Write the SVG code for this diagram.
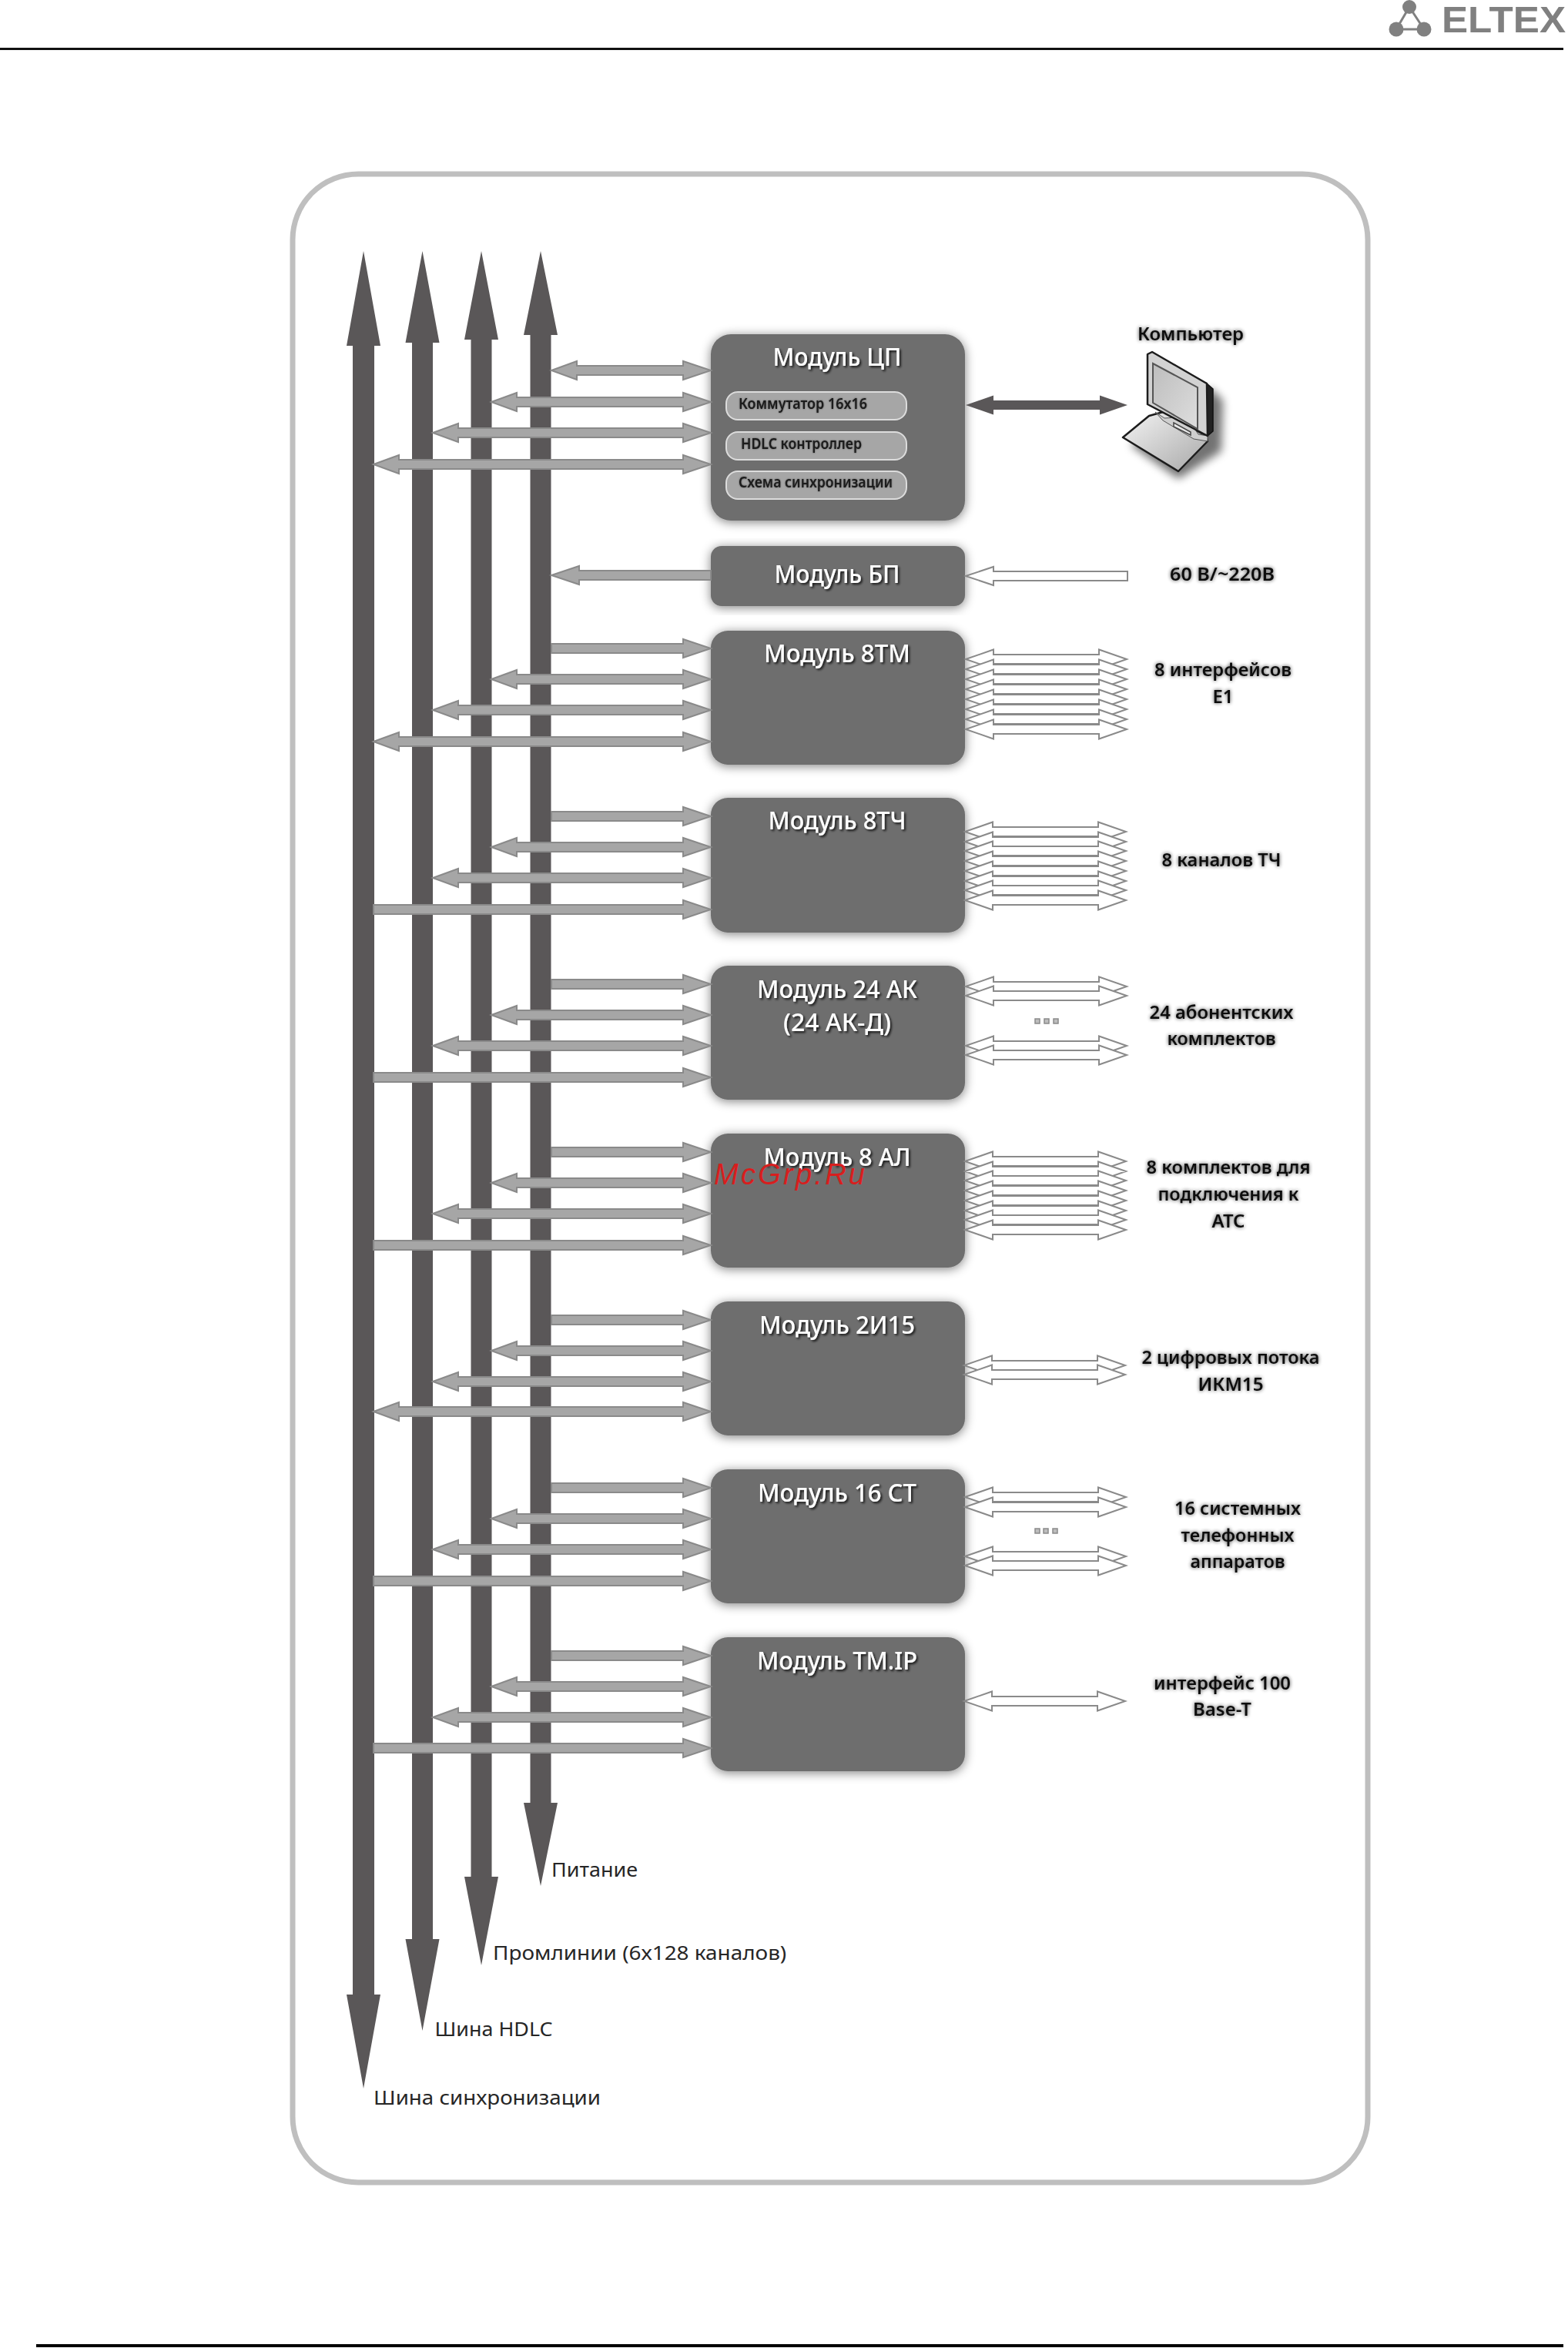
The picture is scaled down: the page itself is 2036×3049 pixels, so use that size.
<svg xmlns="http://www.w3.org/2000/svg" width="2036" height="3049" viewBox="0 0 2036 3049">
<style>
text{font-family:"Noto Sans","Open Sans","DejaVu Sans",sans-serif}
.bus{fill:#5a5758}
.mod{fill:#6e6e6e}
.pill{fill:#a6a6a6;stroke:#dcdcdc;stroke-width:2}
.ga{fill:#a6a6a6;stroke:#8a8a8a;stroke-width:2}
.wa{fill:#fff;stroke:#8a8a8a;stroke-width:2}
.mt{fill:#fff;font-size:32px;font-weight:500;text-anchor:middle;filter:url(#ds)}
.lb{fill:#111;font-size:24px;font-weight:600;text-anchor:middle;filter:url(#gl)}
.pt{fill:#1a1a1a;font-size:20px;font-weight:600;filter:url(#gs)}
.bl{fill:#262626;font-size:26px}
.dot{fill:#bdbdbd;stroke:#8a8a8a;stroke-width:1.5}
</style>
<defs>
<filter id="sh" x="-15%" y="-15%" width="130%" height="130%"><feGaussianBlur in="SourceAlpha" stdDeviation="7"/><feOffset dy="2"/><feComponentTransfer><feFuncA type="linear" slope=".5"/></feComponentTransfer><feMerge><feMergeNode/><feMergeNode in="SourceGraphic"/></feMerge></filter>
<filter id="ds" x="-10%" y="-20%" width="120%" height="150%"><feGaussianBlur in="SourceAlpha" stdDeviation="1.5"/><feOffset dx="2" dy="2"/><feComponentTransfer><feFuncA type="linear" slope=".8"/></feComponentTransfer><feMerge><feMergeNode/><feMergeNode in="SourceGraphic"/></feMerge></filter>
<filter id="gl" x="-15%" y="-30%" width="130%" height="170%"><feGaussianBlur in="SourceAlpha" stdDeviation="2.6"/><feComponentTransfer><feFuncA type="linear" slope=".75"/></feComponentTransfer><feMerge><feMergeNode/><feMergeNode in="SourceGraphic"/></feMerge></filter>
<filter id="gs" x="-10%" y="-30%" width="120%" height="170%"><feGaussianBlur in="SourceAlpha" stdDeviation="1.2"/><feComponentTransfer><feFuncA type="linear" slope=".5"/></feComponentTransfer><feMerge><feMergeNode/><feMergeNode in="SourceGraphic"/></feMerge></filter>
<filter id="pcs" x="-30%" y="-30%" width="160%" height="160%"><feGaussianBlur stdDeviation="6"/></filter>
<linearGradient id="kb" x1="0" y1="0" x2="1" y2="1"><stop offset="0" stop-color="#f4f4f4"/><stop offset="1" stop-color="#a8a8a8"/></linearGradient>
<linearGradient id="sc" x1="0" y1="0" x2="1" y2="1"><stop offset="0" stop-color="#bdbdbd"/><stop offset="1" stop-color="#dedede"/></linearGradient>
<polygon id="g716d" class="ga" points="716,0 749,-12 749,-6 887,-6 887,-12 923,0 887,12 887,6 749,6 749,12"/>
<polygon id="g638d" class="ga" points="638,0 671,-12 671,-6 887,-6 887,-12 923,0 887,12 887,6 671,6 671,12"/>
<polygon id="g562d" class="ga" points="562,0 595,-12 595,-6 887,-6 887,-12 923,0 887,12 887,6 595,6 595,12"/>
<polygon id="g485d" class="ga" points="485,0 518,-12 518,-6 887,-6 887,-12 923,0 887,12 887,6 518,6 518,12"/>
<polygon id="g716s" class="ga" points="716,-6 887,-6 887,-12 923,0 887,12 887,6 716,6"/>
<polygon id="g485s" class="ga" points="485,-6 887,-6 887,-12 923,0 887,12 887,6 485,6"/>
<polygon id="w" class="wa" points="1253,0 1289,-12.500 1289,-6 1426,-6 1426,-12.500 1462,0 1426,12.500 1426,6 1289,6 1289,12.500"/>
<rect id="d" class="dot" x="-3" y="-3" width="6" height="6"/>
</defs>
<rect width="2036" height="3049" fill="#fff"/>
<g id="page">
<rect x="0" y="62" width="2030" height="3" fill="#111"/>
<rect x="47" y="3044" width="1983" height="4" fill="#000"/>
</g>
<g id="logo" fill="#808080">
<polygon points="1830,9 1813,38 1849,38" fill="none" stroke="#808080" stroke-width="3"/>
<circle cx="1830" cy="9" r="9"/><circle cx="1813" cy="38" r="9.500"/><circle cx="1849" cy="38" r="9.500"/>
<text x="1872" y="42" font-size="48" font-weight="700" textLength="161" lengthAdjust="spacingAndGlyphs" style="font-family:'Liberation Sans',sans-serif">ELTEX</text>
</g>
<rect id="frame" x="380" y="226" width="1396" height="2608" rx="85" ry="85" fill="#fff" stroke="#bfbfbf" stroke-width="7"/>
<g id="buses">
<polygon class="bus" points="472,326 494,449 486,449 486,2590 494,2590 472,2712 450,2590 458,2590 458,449 450,449"/>
<polygon class="bus" points="548.500,326 570.500,445 562,445 562,2518 570.500,2518 548.500,2637 526.500,2518 535,2518 535,445 526.500,445"/>
<polygon class="bus" points="625,326 647,441 638.500,441 638.500,2437 647,2437 625,2552 603,2437 611.500,2437 611.500,441 603,441"/>
<polygon class="bus" points="702,326 724,435 715.500,435 715.500,2341 724,2341 702,2449 680,2341 688.500,2341 688.500,435 680,435"/>
</g>
<g id="mod-cp">
<rect class="mod" x="923" y="434" width="330" height="242" rx="26" filter="url(#sh)"/>
<text class="mt" x="1087" y="475" textLength="167" lengthAdjust="spacingAndGlyphs">Модуль ЦП</text>
<rect class="pill" x="943" y="509" width="234" height="36" rx="15"/>
<rect class="pill" x="943" y="561" width="234" height="36" rx="15"/>
<rect class="pill" x="943" y="612" width="234" height="36" rx="15"/>
<text class="pt" x="959" y="531" textLength="167" lengthAdjust="spacingAndGlyphs">Коммутатор 16x16</text>
<text class="pt" x="962" y="583" textLength="157" lengthAdjust="spacingAndGlyphs">HDLC контроллер</text>
<text class="pt" x="959" y="633" textLength="200" lengthAdjust="spacingAndGlyphs">Схема синхронизации</text>
</g>
<g id="mod-bp"><rect class="mod" x="923" y="709" width="330" height="78" rx="14" filter="url(#sh)"/><text class="mt" x="1087" y="757" textLength="163" lengthAdjust="spacingAndGlyphs">Модуль БП</text></g>
<g id="mod-8tm"><rect class="mod" x="923" y="819" width="330" height="174" rx="22" filter="url(#sh)"/><text class="mt" x="1087" y="860" textLength="190" lengthAdjust="spacingAndGlyphs">Модуль 8ТМ</text></g>
<g id="mod-8tch"><rect class="mod" x="923" y="1036" width="330" height="175" rx="22" filter="url(#sh)"/><text class="mt" x="1087" y="1077" textLength="179" lengthAdjust="spacingAndGlyphs">Модуль 8ТЧ</text></g>
<g id="mod-24ak"><rect class="mod" x="923" y="1254" width="330" height="174" rx="22" filter="url(#sh)"/><text class="mt" x="1087" y="1296" textLength="208" lengthAdjust="spacingAndGlyphs">Модуль 24 АК</text><text class="mt" x="1087" y="1339" textLength="140" lengthAdjust="spacingAndGlyphs">(24 АК-Д)</text></g>
<g id="mod-8al"><rect class="mod" x="923" y="1472" width="330" height="174" rx="22" filter="url(#sh)"/><text class="mt" x="1087" y="1514" textLength="191" lengthAdjust="spacingAndGlyphs">Модуль 8 АЛ</text></g>
<g id="mod-2i15"><rect class="mod" x="923" y="1690" width="330" height="174" rx="22" filter="url(#sh)"/><text class="mt" x="1087" y="1732" textLength="202" lengthAdjust="spacingAndGlyphs">Модуль 2И15</text></g>
<g id="mod-16st"><rect class="mod" x="923" y="1908" width="330" height="174" rx="22" filter="url(#sh)"/><text class="mt" x="1087" y="1950" textLength="206" lengthAdjust="spacingAndGlyphs">Модуль 16 СТ</text></g>
<g id="mod-tmip"><rect class="mod" x="923" y="2126" width="330" height="174" rx="22" filter="url(#sh)"/><text class="mt" x="1087" y="2168" textLength="208" lengthAdjust="spacingAndGlyphs">Модуль ТМ.IP</text></g>
<g id="connectors">
<use href="#g716d" y="481"/><use href="#g638d" y="522"/><use href="#g562d" y="562"/><use href="#g485d" y="603"/>
<polygon class="ga" points="716,747 752,735 752,741 923,741 923,753 752,753 752,759"/>
<use href="#g716s" y="842"/><use href="#g638d" y="882"/><use href="#g562d" y="922"/><use href="#g485d" y="963"/>
<use href="#g716s" y="1060"/><use href="#g638d" y="1100"/><use href="#g562d" y="1140"/><use href="#g485s" y="1181"/>
<use href="#g716s" y="1278"/><use href="#g638d" y="1318"/><use href="#g562d" y="1358"/><use href="#g485s" y="1399"/>
<use href="#g716s" y="1496"/><use href="#g638d" y="1536"/><use href="#g562d" y="1576"/><use href="#g485s" y="1617"/>
<use href="#g716s" y="1714"/><use href="#g638d" y="1754"/><use href="#g562d" y="1794"/><use href="#g485d" y="1833"/>
<use href="#g716s" y="1932"/><use href="#g638d" y="1972"/><use href="#g562d" y="2012"/><use href="#g485s" y="2053"/>
<use href="#g716s" y="2150"/><use href="#g638d" y="2190"/><use href="#g562d" y="2230"/><use href="#g485s" y="2270"/>
<polygon fill="#5a5758" points="1254,526 1290,513.500 1290,520 1428,520 1428,513.500 1464,526 1428,538.500 1428,532 1290,532 1290,538.500"/>
<polygon class="wa" points="1254,748 1290,736 1290,742 1464,742 1464,754 1290,754 1290,760"/>
<use href="#w" x="1" y="856"/><use href="#w" x="1" y="869"/><use href="#w" x="1" y="882"/><use href="#w" x="1" y="895"/><use href="#w" x="1" y="908"/><use href="#w" x="1" y="921"/><use href="#w" x="1" y="934"/><use href="#w" x="1" y="947"/>
<use href="#w" y="1080"/><use href="#w" y="1093"/><use href="#w" y="1105"/><use href="#w" y="1118"/><use href="#w" y="1131"/><use href="#w" y="1144"/><use href="#w" y="1156"/><use href="#w" y="1169"/>
<use href="#w" x="1" y="1281"/><use href="#w" x="1" y="1293"/><use href="#w" x="1" y="1358"/><use href="#w" x="1" y="1370"/>
<use href="#w" y="1508"/><use href="#w" y="1521"/><use href="#w" y="1533"/><use href="#w" y="1546"/><use href="#w" y="1559"/><use href="#w" y="1572"/><use href="#w" y="1584"/><use href="#w" y="1597"/>
<use href="#w" x="-1" y="1773"/><use href="#w" x="-1" y="1785"/>
<use href="#w" y="1944"/><use href="#w" y="1957"/><use href="#w" y="2021"/><use href="#w" y="2033"/>
<use href="#w" x="-1" y="2209"/>
<use href="#d" x="1347" y="1326"/><use href="#d" x="1359" y="1326"/><use href="#d" x="1371" y="1326"/>
<use href="#d" x="1347" y="1988"/><use href="#d" x="1358" y="1988"/><use href="#d" x="1370" y="1988"/>
</g>
<g id="computer">
<polygon points="1505,548 1572,504 1588,520 1586,586 1530,622 1468,578" fill="#000" opacity=".55" filter="url(#pcs)"/>
<polygon points="1567,498 1575,505 1575,560 1568,566" fill="#222" stroke="#111" stroke-width="1.500"/>
<polygon points="1492,540 1458,568 1530,612 1568,573 1566,566 1510,535" fill="url(#kb)" stroke="#1c1c1c" stroke-width="2.500" stroke-linejoin="round"/>
<polygon points="1500,535 1512,543 1530,542 1548,552 1556,564 1568,566 1568,573 1550,570 1510,546" fill="#cfcfcf" stroke="#555" stroke-width="1"/>
<polygon points="1524,549 1546,561 1546,565 1524,554" fill="#e8e8e8" stroke="#444" stroke-width="1.500"/>
<polygon points="1490,460 1496,457 1567,498 1568,566 1490,525" fill="#d2d2d2" stroke="#1c1c1c" stroke-width="2.500" stroke-linejoin="round"/>
<polygon points="1497,472 1555,503 1555,557 1497,523" fill="url(#sc)" stroke="#555" stroke-width="2"/>
</g>
<g id="labels">
<text class="lb" x="1546" y="442" textLength="138" lengthAdjust="spacingAndGlyphs">Компьютер</text>
<text class="lb" x="1587" y="754" textLength="136" lengthAdjust="spacingAndGlyphs">60 В/~220В</text>
<text class="lb" x="1588" y="878" textLength="178" lengthAdjust="spacingAndGlyphs">8 интерфейсов</text>
<text class="lb" x="1588" y="913" textLength="27" lengthAdjust="spacingAndGlyphs">E1</text>
<text class="lb" x="1586" y="1125" textLength="155" lengthAdjust="spacingAndGlyphs">8 каналов ТЧ</text>
<text class="lb" x="1586" y="1323" textLength="187" lengthAdjust="spacingAndGlyphs">24 абонентских</text>
<text class="lb" x="1586" y="1357" textLength="141" lengthAdjust="spacingAndGlyphs">комплектов</text>
<text class="lb" x="1595" y="1524" textLength="213" lengthAdjust="spacingAndGlyphs">8 комплектов для</text>
<text class="lb" x="1595" y="1559" textLength="183" lengthAdjust="spacingAndGlyphs">подключения к</text>
<text class="lb" x="1595" y="1594" textLength="43" lengthAdjust="spacingAndGlyphs">АТС</text>
<text class="lb" x="1598" y="1771" textLength="231" lengthAdjust="spacingAndGlyphs">2 цифровых потока</text>
<text class="lb" x="1598" y="1806" textLength="85" lengthAdjust="spacingAndGlyphs">ИКМ15</text>
<text class="lb" x="1607" y="1967" textLength="164" lengthAdjust="spacingAndGlyphs">16 системных</text>
<text class="lb" x="1607" y="2002" textLength="147" lengthAdjust="spacingAndGlyphs">телефонных</text>
<text class="lb" x="1607" y="2036" textLength="123" lengthAdjust="spacingAndGlyphs">аппаратов</text>
<text class="lb" x="1587" y="2194" textLength="178" lengthAdjust="spacingAndGlyphs">интерфейс 100</text>
<text class="lb" x="1587" y="2228" textLength="76" lengthAdjust="spacingAndGlyphs">Base-T</text>
<text class="bl" x="716" y="2437" textLength="112" lengthAdjust="spacingAndGlyphs">Питание</text>
<text class="bl" x="640" y="2545" textLength="381" lengthAdjust="spacingAndGlyphs">Промлинии (6х128 каналов)</text>
<text class="bl" x="564.500" y="2644" textLength="153" lengthAdjust="spacingAndGlyphs">Шина HDLC</text>
<text class="bl" x="485" y="2733" textLength="295" lengthAdjust="spacingAndGlyphs">Шина синхронизации</text>
<text x="927" y="1538" font-size="38" font-style="italic" fill="#d81e1e" textLength="196" style="font-family:'Liberation Sans',sans-serif">McGrp.Ru</text>
</g>
</svg>
